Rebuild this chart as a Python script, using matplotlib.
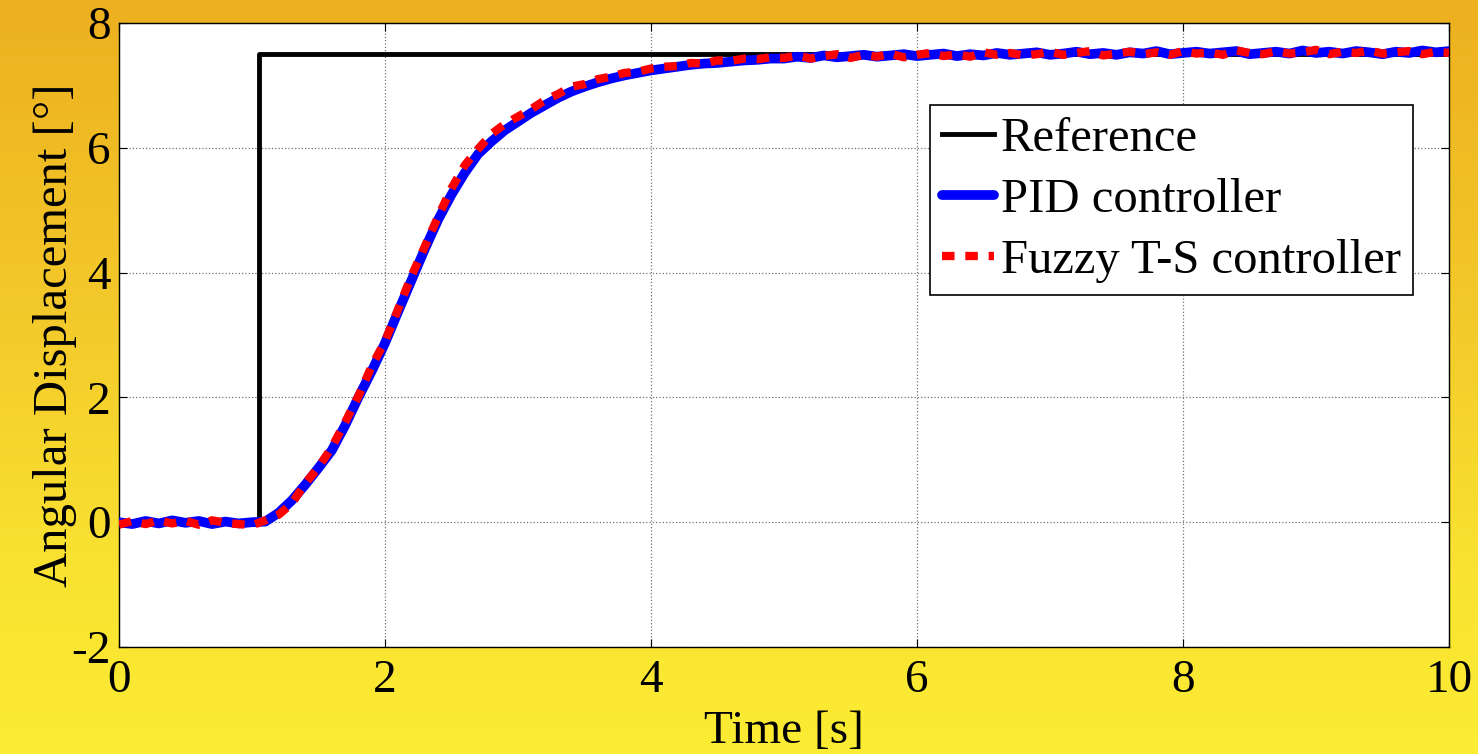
import numpy as np
import matplotlib.pyplot as plt
from matplotlib.colors import LinearSegmentedColormap

# Fonts (Times-like), plain hyphen for negative ticks
plt.rcParams['font.family'] = ['Liberation Serif', 'DejaVu Serif']
plt.rcParams['axes.unicode_minus'] = False

# Data (sample every 0.1 s)
time = np.round(np.arange(101) * 0.1, 1)

ref_t = [0.0, 1.05, 1.05, 10.0]
ref_y = [0.0, 0.0, 7.5, 7.5]

pid = [0.0, -0.03, 0.02, -0.02, 0.03, -0.01, 0.02, -0.03, 0.01, -0.02, 0.0,
       0.01, 0.15, 0.35, 0.6, 0.87, 1.15, 1.55, 2.0, 2.42, 2.87,
       3.38, 3.88, 4.38, 4.85, 5.25, 5.6, 5.9, 6.1, 6.28, 6.42,
       6.56, 6.68, 6.8, 6.9, 6.98, 7.05, 7.11, 7.16, 7.2, 7.24,
       7.27, 7.3, 7.33, 7.35, 7.36, 7.38, 7.4, 7.41, 7.43, 7.43,
       7.46, 7.44, 7.48, 7.45, 7.47, 7.49, 7.46, 7.48, 7.50, 7.47,
       7.49, 7.51, 7.47, 7.50, 7.48, 7.52, 7.49, 7.51, 7.53, 7.49,
       7.51, 7.54, 7.50, 7.52, 7.49, 7.53, 7.51, 7.55, 7.50, 7.52,
       7.54, 7.51, 7.53, 7.55, 7.50, 7.52, 7.54, 7.51, 7.56, 7.52,
       7.54, 7.51, 7.55, 7.53, 7.50, 7.54, 7.52, 7.56, 7.53, 7.55]

fuzzy = [-0.04, 0.02, -0.03, 0.03, -0.02, 0.02, -0.04, 0.03, -0.01, -0.03, -0.05,
         0.03, 0.12, 0.3, 0.62, 0.88, 1.2, 1.6, 2.02, 2.5, 2.9,
         3.42, 3.95, 4.42, 4.9, 5.35, 5.72, 5.98, 6.22, 6.38, 6.5,
         6.62, 6.76, 6.86, 6.98, 7.02, 7.1, 7.14, 7.2, 7.22, 7.27,
         7.3, 7.31, 7.36, 7.35, 7.4, 7.39, 7.43, 7.42, 7.45, 7.44,
         7.48, 7.43, 7.47, 7.50, 7.44, 7.49, 7.46, 7.51, 7.45, 7.49,
         7.52, 7.47, 7.50, 7.46, 7.53, 7.49, 7.52, 7.48, 7.50, 7.54,
         7.49, 7.52, 7.55, 7.48, 7.51, 7.54, 7.50, 7.53, 7.49, 7.55,
         7.51, 7.53, 7.49, 7.56, 7.52, 7.50, 7.55, 7.51, 7.53, 7.57,
         7.50, 7.54, 7.52, 7.56, 7.51, 7.53, 7.55, 7.50, 7.54, 7.52]

labels = ['Reference', 'PID controller', 'Fuzzy T-S controller']

fig = plt.figure(figsize=(14.78, 7.54), dpi=100)

# orange-to-yellow backdrop
bg = fig.add_axes([0, 0, 1, 1], zorder=-10)
bg_cmap = LinearSegmentedColormap.from_list(
    'bg', [(0.0, '#edb01f'), (0.4, '#f3c82a'), (0.75, '#f9e231'), (1.0, '#fcec33')])
bg.imshow(np.linspace(0, 1, 256).reshape(-1, 1), aspect='auto', cmap=bg_cmap,
          extent=[0, 1, 0, 1], origin='upper')
bg.axis('off')

ax = fig.add_axes([0.0805, 0.1419, 0.8999, 0.8276])
ax.set_facecolor('white')

ax.plot(ref_t, ref_y, color='black', lw=3.5, label=labels[0], zorder=3)
ax.plot(time, pid, color='#0000ff', lw=7, label=labels[1], zorder=4,
        solid_joinstyle='round', solid_capstyle='round')
ax.plot(time, fuzzy, color='#ff0000', lw=6, linestyle=(0, (1.5, 1.3)),
        label=labels[2], zorder=5)

ax.set_xlim(0, 10)
ax.set_ylim(-2, 8)
ax.set_xticks([0, 2, 4, 6, 8, 10])
ax.set_yticks([-2, 0, 2, 4, 6, 8])
ax.grid(True, color='0.45', linestyle=':', linewidth=0.9)
ax.tick_params(direction='in', length=6, width=0.8, top=True, right=True,
               labelsize=34, colors='black')
ax.tick_params(axis='x', pad=9)
ax.tick_params(axis='y', pad=6)
for s in ax.spines.values():
    s.set_linewidth(1.0)
    s.set_color('black')

ax.set_xlabel('Time [s]', fontsize=34, labelpad=6)
ax.set_ylabel('Angular Displacement [°]', fontsize=35, labelpad=-4)

leg = ax.legend(loc='upper left', bbox_to_anchor=(0.61, 0.869), fontsize=35,
                frameon=True, fancybox=False, framealpha=1, edgecolor='black',
                handlelength=1.05, handletextpad=0.15, labelspacing=0.35,
                borderpad=0.25, borderaxespad=0)
leg.get_frame().set_linewidth(1.2)

fig.savefig('out.png', dpi=100)
